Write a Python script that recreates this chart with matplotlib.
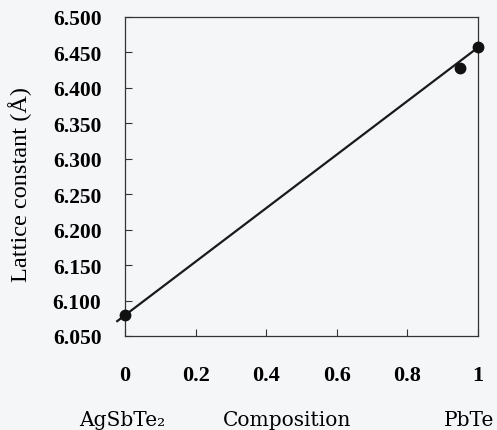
import matplotlib
matplotlib.use("Agg")
import matplotlib.pyplot as plt

# data
composition = [0.0, 0.95, 1.0]
lattice = [6.080, 6.428, 6.458]
fit_x = [-0.022, 1.0]
fit_y = [6.071, 6.457]
yticks = [6.050, 6.100, 6.150, 6.200, 6.250, 6.300, 6.350, 6.400, 6.450, 6.500]
xticks = [0, 0.2, 0.4, 0.6, 0.8, 1]
xtick_labels = ["0", "0.2", "0.4", "0.6", "0.8", "1"]

plt.rcParams['font.family'] = ['Liberation Serif', 'DejaVu Serif']
bg = '#f5f6f8'
fig = plt.figure(figsize=(4.97, 4.31), dpi=100, facecolor=bg)
ax = fig.add_axes([125/497, 1-337/431, (478-125)/497, (337-18)/431])
ax.set_facecolor(bg)

ax.plot(fit_x, fit_y, color='#1a1a1a', lw=1.6, clip_on=False, zorder=2)
ax.plot(composition, lattice, 'o', color='#111111', ms=7.5, clip_on=False, zorder=3)

ax.set_xlim(0, 1)
ax.set_ylim(6.05, 6.5)
ax.set_yticks(yticks)
ax.set_yticklabels([f"{v:.3f}" for v in yticks], fontweight='bold', fontsize=15.5)
ax.set_xticks(xticks)
ax.set_xticklabels(xtick_labels, fontweight='bold', fontsize=16)
ax.tick_params(axis='y', direction='in', length=5, width=0.8, pad=17, color='#333333')
ax.tick_params(axis='x', direction='in', length=5, width=0.8, pad=21, color='#333333')
ax.tick_params(top=False, right=False)
for s in ax.spines.values():
    s.set_linewidth(0.9)
    s.set_color('#333333')

fig.text(20/497, 1-185/431, "Lattice constant (Å)", rotation=90, ha='center', va='center', fontsize=17.5)
lab_font = ['DejaVu Serif']
fig.text(122/497, 1-421/431, "AgSbTe₂", ha='center', va='center', fontsize=14.5, family=lab_font)
fig.text(287/497, 1-421/431, "Composition", ha='center', va='center', fontsize=14.5, family=lab_font)
fig.text(469/497, 1-421/431, "PbTe", ha='center', va='center', fontsize=14.5, family=lab_font)

fig.savefig("out.png", dpi=100, facecolor=bg)
